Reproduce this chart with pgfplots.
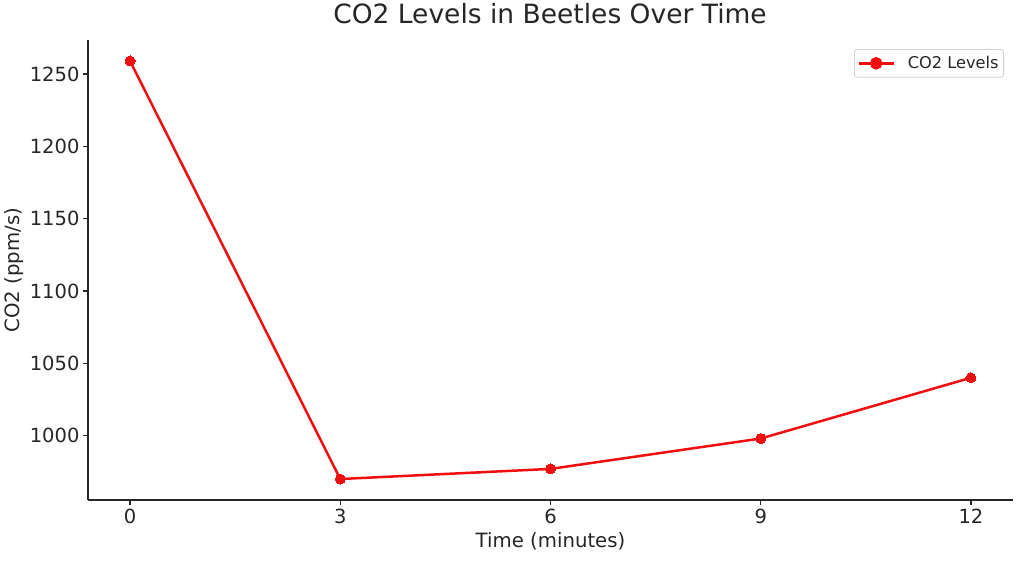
\documentclass[border=0pt]{standalone}
\usepackage{pgfplots}
\pgfplotsset{compat=1.18}
\usepackage{fontspec}
\setmainfont{DejaVu Sans}
\definecolor{txt}{HTML}{262626}
\definecolor{lred}{HTML}{F00F10}
\begin{document}
\begin{tikzpicture}[x=1pt,y=1pt]
\path[use as bounding box] (0,0) rectangle (1024,563);
\begin{axis}[
  at={(88pt,63pt)}, anchor=south west,
  scale only axis, width=925pt, height=460pt,
  xmin=-0.6, xmax=12.6, ymin=955.5, ymax=1273.5,
  axis x line*=bottom, axis y line*=left,
  axis line style={line width=1.2pt, color=txt},
  tick style={line width=1.2pt, color=txt},
  tick align=outside, major tick length=5pt,
  xtick={0,3,6,9,12}, ytick={1000,1050,1100,1150,1200,1250},
  /pgf/number format/assume math mode=true,
  /pgf/number format/1000 sep={},
  ticklabel style={font=\fontsize{19.5}{20}\selectfont, text=txt},
  xlabel={Time (minutes)}, ylabel={CO2 (ppm/s)},
  label style={font=\fontsize{19.7}{21}\selectfont, text=txt},
  xlabel style={at={(axis description cs:0.5,-0.0891)}, anchor=center},
  ylabel style={at={(axis description cs:-0.08,0.5)}, anchor=center},
  title={CO2 Levels in Beetles Over Time},
  title style={font=\fontsize{26.5}{28}\selectfont, text=txt, at={(axis description cs:0.4995,1.0435)}, anchor=center},
  legend style={at={(axis description cs:0.9903,0.9804)}, anchor=north east,
    draw=black!18, rounded corners=3pt, line width=0.8pt,
    font=\fontsize{16.2}{17}\selectfont, text=txt,
    inner xsep=3pt, inner ysep=5pt},
  legend cell align=left,
  legend image code/.code={
    \draw[lred, line width=2.5pt] (0pt,0pt) -- (35pt,0pt);
    \fill[lred] (17.5pt,0pt) circle (5pt);
  },
]
\addplot[lred, line width=2.5pt, mark=*, mark size=5pt, mark options={fill=lred, draw=lred, line width=0pt}]
  coordinates {(0,1259) (3,970) (6,977) (9,998) (12,1040)};
\addlegendentry{\hspace{11pt}CO2 Levels}
\end{axis}
\end{tikzpicture}
\end{document}
